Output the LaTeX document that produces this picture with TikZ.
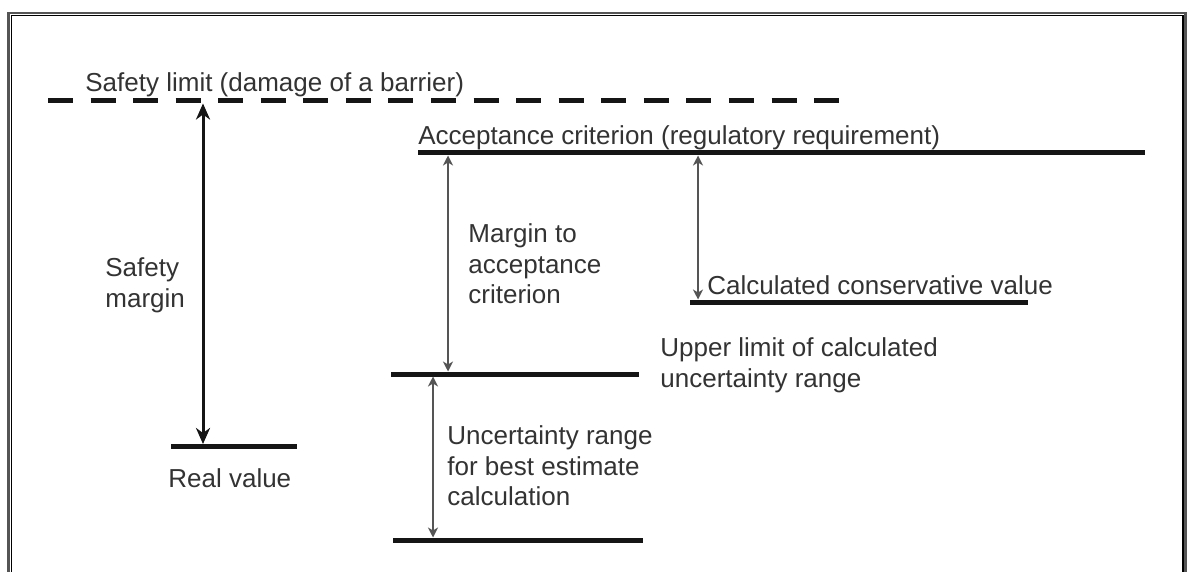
\documentclass[tikz,border=0pt]{standalone}
\usepackage{fontspec}
\setmainfont{Liberation Sans}
\usepackage{tikz}
\usetikzlibrary{arrows.meta}
\definecolor{LevelBlack}{HTML}{151515}
\definecolor{TextGray}{HTML}{333333}
\definecolor{FrameGray}{HTML}{555555}

\begin{document}
\begin{tikzpicture}[
  x=0.5pt,y=-0.5pt,
  every node/.style={font=\fontsize{13}{15.4}\selectfont,text=TextGray,
                     inner sep=0pt,align=left},
  txt/.style={anchor=north west},
  level/.style={draw=LevelBlack,line width=2.5pt},
  limitline/.style={level,dash pattern=on 12.5pt off 8.78pt},
  bigspan/.style={{Stealth[length=8pt,width=7pt,inset=2.5pt]}-{Stealth[length=8pt,width=7pt,inset=2.5pt]},
                  line width=1.5pt,draw=LevelBlack},
  span/.style={{Stealth[length=5pt,width=5pt,inset=1.5pt]}-{Stealth[length=5pt,width=5pt,inset=1.5pt]},
               line width=0.7pt,draw=FrameGray}
]
  \useasboundingbox (0,0) rectangle (1187,572);
  \fill[white] (0,0) rectangle (1187,572);
  \draw[FrameGray,line width=1.3pt] (8.5,572) |- (1185.5,13) -- (1185.5,572);
  \draw[black,line width=0.7pt] (11.5,572) |- (1183,15.5) -- (1183,572);

  \coordinate (limitL) at (48,101);     \coordinate (limitR) at (839,101);
  \coordinate (acceptL) at (418,153);   \coordinate (acceptR) at (1145,153);
  \coordinate (realL) at (171,446.5);   \coordinate (realR) at (297,446.5);
  \coordinate (consL) at (690,302);     \coordinate (consR) at (1028,302);
  \coordinate (upperL) at (391,374);    \coordinate (upperR) at (639,374);
  \coordinate (lowerL) at (393,540);    \coordinate (lowerR) at (643,540);

  \draw[limitline] (limitL) -- (limitR);
  \draw[level] (acceptL) -- (acceptR);
  \draw[level] (realL) -- (realR);
  \draw[level] (consL) -- (consR);
  \draw[level] (upperL) -- (upperR);
  \draw[level] (lowerL) -- (lowerR);

  \node[txt] (limittext) at (85,72) {Safety limit (damage of a barrier)};
  \node[txt] (accepttext) at (418,125) {Acceptance criterion (regulatory requirement)};
  \node[txt] (safetytext) at (105,257) {Safety\\margin};
  \node[txt] (realtext) at (168,468) {Real value};
  \node[txt] (margintext) at (468,223) {Margin to\\acceptance\\criterion};
  \node[txt] (constext) at (707,275) {Calculated conservative value};
  \node[txt] (uppertext) at (660,337) {Upper limit of calculated\\uncertainty range};
  \node[txt] (rangetext) at (447,425) {Uncertainty range\\for best estimate\\calculation};

  \coordinate (safetyTop) at (203,103.5);  \coordinate (safetyBot) at (203,444);
  \coordinate (marginTop) at (448,155.5);  \coordinate (marginBot) at (448,371.5);
  \coordinate (consTop) at (698,155.5);    \coordinate (consBot) at (698,299.5);
  \coordinate (rangeTop) at (433,376.5);   \coordinate (rangeBot) at (433,537.5);

  \draw[bigspan] (safetyTop) -- (safetyBot);
  \draw[span] (marginTop) -- (marginBot);
  \draw[span] (consTop) -- (consBot);
  \draw[span] (rangeTop) -- (rangeBot);
\end{tikzpicture}
\end{document}
